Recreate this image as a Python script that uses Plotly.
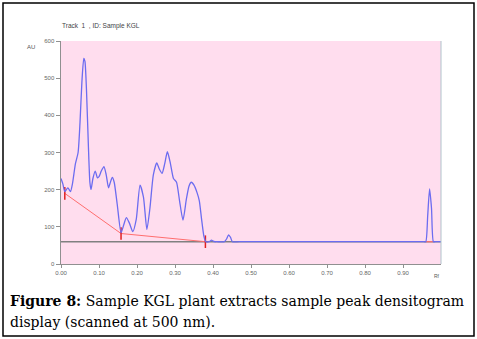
import plotly.graph_objects as go

# ---- data ----
rf = [0.000, 0.005, 0.010, 0.018, 0.025, 0.030, 0.038, 0.045, 0.050, 0.055,
      0.060, 0.063, 0.067, 0.072, 0.076, 0.079, 0.084, 0.090, 0.096, 0.100,
      0.106, 0.113, 0.119, 0.125, 0.130, 0.135, 0.140, 0.148, 0.158, 0.165,
      0.172, 0.180, 0.189, 0.198, 0.208, 0.217, 0.226, 0.234, 0.243, 0.252,
      0.259, 0.266, 0.273, 0.280, 0.288, 0.296, 0.304, 0.312, 0.321, 0.330,
      0.337, 0.343, 0.350, 0.358, 0.364, 0.370, 0.376, 0.381, 0.390, 0.396,
      0.400, 0.404, 0.410, 0.430, 0.436, 0.441, 0.446, 0.451, 0.470, 0.955,
      0.960, 0.965, 0.970, 0.975, 0.980, 0.985, 1.000]
au = [230, 215, 195, 205, 195, 215, 270, 300, 380, 490,
      553, 545, 470, 320, 220, 200, 230, 250, 232, 235,
      250, 262, 240, 205, 220, 233, 220, 160, 84, 105,
      125, 110, 87, 120, 212, 180, 93, 150, 240, 272,
      255, 244, 270, 302, 270, 230, 220, 170, 118, 175,
      210, 220, 212, 192, 170, 120, 75, 60, 60, 64,
      62, 60, 60, 60, 68, 78, 72, 60, 60, 60,
      60, 130, 202, 150, 60, 60, 60]

baseline_rf = [0.010, 0.158, 0.380]
baseline_au = [190, 82, 60]
baseline2_rf = [0.960, 0.980]
baseline2_au = [60, 60]
zero_level_rf = [0.0, 1.0]
zero_level_au = [60, 60]

x_ticks = [0.0, 0.1, 0.2, 0.3, 0.4, 0.5, 0.6, 0.7, 0.8, 0.9]
x_tick_labels = ["0.00", "0.10", "0.20", "0.30", "0.40", "0.50", "0.60", "0.70", "0.80", "0.90"]
y_ticks = [0, 100, 200, 300, 400, 500, 600]

title_text = "Track  1  , ID: Sample KGL"
caption1 = "<b>Figure 8:</b> Sample KGL plant extracts sample peak densitogram"
caption2 = "display (scanned at 500 nm)."

# ---- figure ----
fig = go.Figure()

fig.add_trace(go.Scatter(x=zero_level_rf, y=zero_level_au, mode="lines",
                         line=dict(color="#808080", width=1.6), hoverinfo="skip"))
fig.add_trace(go.Scatter(x=baseline_rf, y=baseline_au, mode="lines+markers",
                         line=dict(color="#FF6E6E", width=1),
                         marker=dict(symbol="line-ns", size=9,
                                     line=dict(color="#E02020", width=1.5)),
                         hoverinfo="skip"))
fig.add_trace(go.Scatter(x=baseline2_rf, y=baseline2_au, mode="lines",
                         line=dict(color="#FF7070", width=1.2), hoverinfo="skip"))
fig.add_trace(go.Scatter(x=rf, y=au, mode="lines",
                         line=dict(color="#6C6CF0", width=1.3, shape="spline", smoothing=0.6),
                         hoverinfo="skip"))

L, R, T, B = 61, 441, 41, 264
W, H = 477, 339
pw, ph = R - L, B - T

def px(x):
    return (x - L) / pw

def py(y):
    return (B - y) / ph

fig.update_layout(
    width=W, height=H,
    margin=dict(l=L, r=W - R, t=T, b=H - B),
    paper_bgcolor="white",
    plot_bgcolor="#FFDDEE",
    showlegend=False,
    font=dict(family="Liberation Sans, Arial", size=6, color="#555555"),
)
fig.update_xaxes(range=[0, 1.0], tickvals=x_ticks, ticktext=x_tick_labels,
                 showgrid=False, zeroline=False, showline=True, linecolor="#909090",
                 linewidth=1, ticks="outside", ticklen=3, tickcolor="#909090",
                 tickfont=dict(size=6, color="#666666"))
fig.update_yaxes(range=[0, 600], tickvals=y_ticks,
                 showgrid=False, zeroline=False, showline=True, linecolor="#909090",
                 linewidth=1.5, ticks="outside", ticklen=4, tickcolor="#909090",
                 tickfont=dict(size=6, color="#666666"))

shapes = [
    # outer frame
    dict(type="rect", xref="paper", yref="paper",
         x0=px(3), x1=px(474), y0=py(336), y1=py(3),
         line=dict(color="black", width=1.5)),
    # right edge of plot
    dict(type="line", xref="paper", yref="paper",
         x0=1, x1=1, y0=0, y1=1, line=dict(color="#AFC4CC", width=1)),
]
fig.update_layout(shapes=shapes)

annotations = [
    dict(text=title_text, xref="paper", yref="paper", x=px(60), y=py(26),
         xanchor="left", yanchor="middle", showarrow=False,
         font=dict(size=6.5, color="#444444")),
    dict(text="AU", xref="paper", yref="paper", x=px(31), y=py(47),
         xanchor="center", yanchor="middle", showarrow=False,
         font=dict(size=6, color="#555555")),
    dict(text="Rf", xref="paper", yref="paper", x=px(437), y=py(276),
         xanchor="center", yanchor="middle", showarrow=False,
         font=dict(size=5, color="#555555")),
    dict(text=caption1, xref="paper", yref="paper", x=px(8), y=py(301),
         xanchor="left", yanchor="middle", showarrow=False,
         font=dict(family="DejaVu Serif", size=14, color="black")),
    dict(text=caption2, xref="paper", yref="paper", x=px(8), y=py(322),
         xanchor="left", yanchor="middle", showarrow=False,
         font=dict(family="DejaVu Serif", size=14, color="black")),
]
fig.update_layout(annotations=annotations)

fig.write_html("out.html",
               config={"displayModeBar": False, "staticPlot": True},
               post_script="document.body.style.margin='0';document.body.style.overflow='hidden';")
